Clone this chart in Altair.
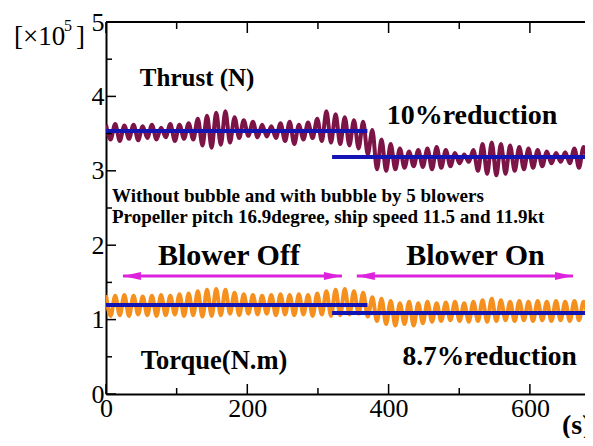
import altair as alt
import pandas as pd

# ---------------- data (values in units of 10^5) ----------------
time_s = [0, 6.5, 13, 19.5, 26, 32.5, 39, 45.5, 52, 58.5,
          65, 71.5, 78, 84.5, 91, 97.5, 104, 110.5, 117, 123.5,
          130, 136.5, 143, 149.5, 156, 162.5, 169, 175.5, 182, 188.5,
          195, 201.5, 208, 214.5, 221, 227.5, 234, 240.5, 247, 253.5,
          260, 266.5, 273, 279.5, 286, 292.5, 299, 305.5, 312, 318.5,
          325, 331.5, 338, 344.5, 351, 357.5, 364, 370.5, 377, 383.5,
          390, 396.5, 403, 409.5, 416, 422.5, 429, 435.5, 442, 448.5,
          455, 461.5, 468, 474.5, 481, 487.5, 494, 500.5, 507, 513.5,
          520, 526.5, 533, 539.5, 546, 552.5, 559, 565.5, 572, 578.5,
          585, 591.5, 598, 604.5, 611, 617.5, 624, 630.5, 637, 643.5,
          650, 656.5, 663, 669.5, 676, 682.5]

thrust = [3.62, 3.42, 3.63, 3.40, 3.61, 3.43, 3.62, 3.41, 3.60, 3.44,
          3.62, 3.42, 3.58, 3.45, 3.63, 3.40, 3.62, 3.43, 3.64, 3.42,
          3.70, 3.34, 3.74, 3.31, 3.78, 3.35, 3.80, 3.38, 3.72, 3.44,
          3.68, 3.47, 3.66, 3.45, 3.62, 3.46, 3.60, 3.44, 3.64, 3.40,
          3.66, 3.36, 3.62, 3.42, 3.65, 3.44, 3.70, 3.40, 3.80, 3.38,
          3.76, 3.36, 3.72, 3.34, 3.68, 3.30, 3.66, 3.22, 3.55, 3.02,
          3.42, 3.00, 3.36, 3.02, 3.30, 3.04, 3.26, 3.06, 3.28, 3.05,
          3.30, 3.02, 3.32, 3.04, 3.28, 3.06, 3.24, 3.10, 3.22, 3.12,
          3.28, 3.00, 3.36, 2.96, 3.38, 2.94, 3.36, 2.96, 3.34, 3.00,
          3.32, 3.02, 3.30, 3.04, 3.28, 3.06, 3.26, 3.10, 3.24, 3.12,
          3.25, 3.10, 3.30, 3.04, 3.32, 3.06]

torque = [1.33, 1.05, 1.32, 1.06, 1.33, 1.05, 1.32, 1.07, 1.31, 1.06,
          1.32, 1.05, 1.33, 1.06, 1.32, 1.07, 1.34, 1.05, 1.35, 1.06,
          1.38, 1.04, 1.40, 1.05, 1.41, 1.06, 1.40, 1.08, 1.36, 1.06,
          1.34, 1.08, 1.33, 1.07, 1.32, 1.08, 1.33, 1.06, 1.34, 1.07,
          1.33, 1.06, 1.34, 1.07, 1.33, 1.05, 1.35, 1.07, 1.38, 1.05,
          1.40, 1.06, 1.41, 1.07, 1.38, 1.08, 1.36, 1.04, 1.30, 0.98,
          1.28, 0.94, 1.25, 0.92, 1.22, 0.94, 1.24, 0.92, 1.22, 0.95,
          1.24, 0.97, 1.22, 0.98, 1.23, 0.99, 1.24, 0.98, 1.22, 0.97,
          1.24, 0.98, 1.26, 0.97, 1.28, 0.98, 1.26, 0.99, 1.24, 0.98,
          1.25, 0.99, 1.24, 0.98, 1.25, 0.99, 1.24, 0.98, 1.25, 0.99,
          1.24, 0.98, 1.25, 0.99, 1.24, 0.98]

mean_start_s = [0, 320, 0, 320]
mean_end_s = [370, 678, 370, 678]
mean_value = [3.535, 3.185, 1.196, 1.089]

arrow_start_s = [24, 355]
arrow_end_s = [334, 661]
arrow_value = [1.586, 1.586]

center_texts = ["Thrust (N)", "10%reduction", "Blower Off", "Blower On",
                "Torque(N.m)", "8.7%reduction"]
center_x = [129, 518, 174, 523, 153, 543]
center_y = [4.14, 3.63, 1.734, 1.734, 0.336, 0.39]
center_size = [25, 28, 30, 30, 26.5, 27.5]

left_texts = ["Without bubble and with bubble by 5 blowers",
              "Propeller pitch 16.9degree, ship speed 11.5 and 11.9kt"]
left_x = [8.5, 8.5]
left_y = [2.585, 2.30]

y_labels = [0, 1, 2, 3, 4, 5]
y_minor = [0.5, 1.5, 2.5, 3.5, 4.5]
x_labels = [0, 200, 400, 600]
x_minor = [100, 300, 500]

# ---------------- chart ----------------
W, H = 479, 372
SERIF = "Liberation Serif"
xs = alt.Scale(domain=[0, 678], nice=False, zero=False)
ys = alt.Scale(domain=[0, 5], nice=False, zero=False)

n = len(time_s)
series_df = pd.DataFrame({
    "t": time_s + time_s,
    "v": thrust + torque,
    "s": ["Thrust"] * n + ["Torque"] * n,
})

lines = alt.Chart(series_df).mark_line(
    strokeWidth=4, interpolate="monotone", clip=True
).encode(
    x=alt.X("t:Q", scale=xs, title=None,
            axis=alt.Axis(values=x_labels, labelPadding=1, labelFlush=False,
                          orient="bottom", ticks=False, grid=False,
                          domain=True, domainColor="black", domainWidth=2,
                          labelFont=SERIF, labelFontSize=26, labelColor="black")),
    y=alt.Y("v:Q", scale=ys, title=None,
            axis=alt.Axis(values=y_labels, labelPadding=2, labelFlush=False,
                          orient="left", ticks=False, grid=False,
                          domain=True, domainColor="black", domainWidth=2,
                          labelFont=SERIF, labelFontSize=26, labelColor="black")),
    color=alt.Color("s:N", legend=None,
                    scale=alt.Scale(domain=["Thrust", "Torque"],
                                    range=["#7d1448", "#f5901e"])),
    detail="s:N",
)

mean_df = pd.DataFrame({"a": mean_start_s, "b": mean_end_s, "v": mean_value})
means = alt.Chart(mean_df).mark_rule(color="#1414b4", strokeWidth=4, clip=True).encode(
    x=alt.X("a:Q", scale=xs, axis=None),
    x2="b:Q",
    y=alt.Y("v:Q", scale=ys, axis=None),
)

frame_top = alt.Chart(pd.DataFrame({"k": [0]})).mark_rule(color="black", strokeWidth=2).encode(
    x=alt.X(datum=0, scale=xs, axis=None),
    x2=alt.X2(datum=678),
    y=alt.Y(datum=5, scale=ys, axis=None),
)

def yticks(vals, length):
    return alt.Chart(pd.DataFrame({"v": vals})).mark_rule(color="black", strokeWidth=1.5).encode(
        y=alt.Y("v:Q", scale=ys, axis=None),
        x=alt.value(0), x2=alt.value(length),
    )

def xticks(vals, length, top):
    if top:
        y0, y1 = 0, length
    else:
        y0, y1 = H, H - length
    return alt.Chart(pd.DataFrame({"v": vals})).mark_rule(color="black", strokeWidth=1.5).encode(
        x=alt.X("v:Q", scale=xs, axis=None),
        y=alt.value(y0), y2=alt.value(y1),
    )

ticks = [yticks(y_labels, 10), yticks(y_minor, 6),
         xticks(x_labels, 10, False), xticks(x_minor, 6, False),
         xticks(x_labels, 11, True), xticks(x_minor, 7, True)]

arrow_df = pd.DataFrame({"a": arrow_start_s, "b": arrow_end_s, "v": arrow_value})
MAG = "#dd22dd"
arrow_shaft = alt.Chart(arrow_df).mark_rule(color=MAG, strokeWidth=3).encode(
    x=alt.X("a:Q", scale=xs, axis=None), x2="b:Q",
    y=alt.Y("v:Q", scale=ys, axis=None),
)
head_left = alt.Chart(arrow_df).mark_point(
    shape="M0,0L2,-0.45L2,0.45Z", filled=True, color=MAG, opacity=1, size=324
).encode(x=alt.X("a:Q", scale=xs, axis=None), y=alt.Y("v:Q", scale=ys, axis=None))
head_right = alt.Chart(arrow_df).mark_point(
    shape="M0,0L-2,-0.45L-2,0.45Z", filled=True, color=MAG, opacity=1, size=324
).encode(x=alt.X("b:Q", scale=xs, axis=None), y=alt.Y("v:Q", scale=ys, axis=None))

center_df = pd.DataFrame({"txt": center_texts, "x": center_x, "y": center_y, "fs": center_size})
center_text = alt.Chart(center_df).mark_text(
    font=SERIF, fontWeight="bold", align="center", baseline="alphabetic", color="black"
).encode(
    x=alt.X("x:Q", scale=xs, axis=None),
    y=alt.Y("y:Q", scale=ys, axis=None),
    text="txt:N",
    size=alt.Size("fs:Q", scale=None, legend=None),
)

left_df = pd.DataFrame({"txt": left_texts, "x": left_x, "y": left_y})
left_text = alt.Chart(left_df).mark_text(
    font=SERIF, fontWeight="bold", align="left", baseline="alphabetic",
    color="black", fontSize=19
).encode(
    x=alt.X("x:Q", scale=xs, axis=None),
    y=alt.Y("y:Q", scale=ys, axis=None),
    text="txt:N",
)

one = pd.DataFrame({"k": [0]})
unit_main = alt.Chart(one).mark_text(
    font=SERIF, fontSize=27, align="left", baseline="alphabetic", color="black", text="[×10"
).encode(x=alt.value(-92), y=alt.value(23))
unit_sup = alt.Chart(one).mark_text(
    font=SERIF, fontSize=16, align="left", baseline="alphabetic", color="black", text="5"
).encode(x=alt.value(-42), y=alt.value(9))
unit_close = alt.Chart(one).mark_text(
    font=SERIF, fontSize=27, align="left", baseline="alphabetic", color="black", text="]"
).encode(x=alt.value(-30), y=alt.value(23))
x_title = alt.Chart(one).mark_text(
    font=SERIF, fontSize=28, fontWeight="bold", align="left", baseline="alphabetic",
    color="black", text="(s)"
).encode(x=alt.value(456), y=alt.value(412))

chart = alt.layer(
    lines, means, frame_top, *ticks, arrow_shaft, head_left, head_right,
    center_text, left_text, unit_main, unit_sup, unit_close, x_title
).resolve_axis(
    x="independent", y="independent"
).properties(
    width=W, height=H,
    autosize=alt.AutoSizeParams(type="none"),
    padding={"left": 98, "top": 14, "right": 0, "bottom": 44},
    background="white",
).configure_view(
    stroke=None
)

chart.save("out.html", embed_options={"renderer": "svg", "actions": False})
